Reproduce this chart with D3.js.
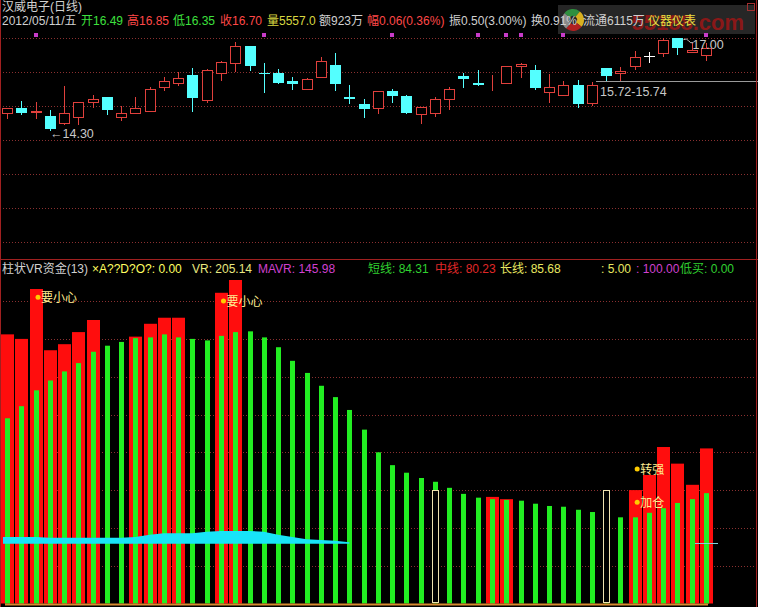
<!DOCTYPE html>
<html><head><meta charset="utf-8">
<script src="https://cdn.jsdelivr.net/npm/d3@7"></script>
<style>html,body{margin:0;padding:0;background:#000;overflow:hidden}</style>
</head><body><svg id="c" width="758" height="607"></svg>
<script>
// ---------- data ----------
const bars = d3.range(1, 51);
const open  = [14.79,14.93,14.81,14.70,14.50,14.68,15.12,15.25,14.68,14.78,14.85,15.54,15.68,15.90,15.17,15.97,16.26,16.76,15.96,15.97,15.73,15.48,15.84,16.20,15.25,15.05,14.93,15.43,15.29,14.75,14.78,15.19,15.87,15.66,15.63,15.66,16.17,16.05,15.41,15.31,15.61,15.09,16.10,15.95,16.18,16.46,16.54,16.99,16.57,16.49];
const high  = [14.93,15.14,15.12,14.87,15.58,15.12,15.31,15.26,14.99,15.26,15.56,15.85,15.98,16.10,16.07,16.31,16.86,16.77,16.25,16.08,15.85,15.80,16.44,16.54,15.61,15.19,15.43,15.49,15.31,14.97,15.26,15.54,15.95,16.05,15.90,16.17,16.25,16.20,15.93,15.74,15.76,15.71,16.10,16.15,16.61,16.59,16.98,17.00,16.84,16.85];
const low   = [14.64,14.76,14.63,14.30,14.46,14.46,14.95,14.75,14.58,14.78,14.85,15.46,15.61,14.85,15.12,15.76,16.03,16.05,15.41,15.68,15.50,15.48,15.84,15.46,15.09,14.66,14.79,15.12,14.78,14.48,14.71,14.90,15.56,15.61,15.46,15.66,15.85,15.48,15.12,15.31,14.97,15.02,15.76,15.76,16.08,16.29,16.46,16.51,16.57,16.35];
const close = [14.93,14.79,14.83,14.31,14.78,15.11,15.20,14.87,14.79,14.92,15.48,15.74,15.81,15.24,16.05,16.28,16.76,16.18,15.95,15.68,15.63,15.78,16.32,15.63,15.19,14.90,15.43,15.29,14.78,14.95,15.19,15.48,15.78,15.61,15.65,16.17,16.22,15.53,15.54,15.61,15.05,15.61,15.88,16.03,16.44,16.46,16.94,16.69,16.64,16.70];
const priceGrid = [17,16,15,14,13,12,11];
const markerBars = [3,19,28,34,36,37,40,50];
const lowLabel = {bar:4, price:14.30};
const highLabel = {bar:48, price:17.00};
const rangeLine = {fromBar:42, price:15.73, text:"15.72-15.74"};

// indicator panel
const vr = [356,350,416,335,343,359,375,null,null,353,370,378,378,null,null,411,428,null,null,null,null,null,null,null,null,null,null,null,null,null,null,null,null,null,141,138,null,null,null,null,null,null,null,null,150,170,207,185,157,205.14];
const mavr = [245,261,282,295,307,318,333,341,346,351,352,356,352,350,348,354,359,360,352,339,321,305,288,273,256,230,200,183,173,166,161,153,145,140,138,137,136,132,129,128,124,121,118,114,114,120,126,133,138,145.98];
const boxBars = [31,43];
const boxValue = 150;
const bandTop  = [88,88,88,87,87,87,87,87,87,88,91,93,93,93,95,96,96,96,95,91,88,85,84,83,81];
const bandBase = [79,79,79,79,79,79,79,79,79,79,79,79,79,79,79,79,79,79,79,79,79,79,79,79,79];
const midLast = 80.23;
const volGrid = [50,100,150,200,250,300,350,400];
const signalBars = [3,16,45,45];
const signalVals = [405,400,178,134];
const signalText = ["要小心","要小心","转强","加仓"];

const headerTop = [
  ["2012/05/11/五","#d0d0d0"],["开16.49","#3ee03e"],["高16.85","#ff4848"],["低16.35","#3ee03e"],
  ["收16.70","#ff4848"],["量5557.0","#d8d840"],["额923万","#d0d0d0"],["幅0.06(0.36%)","#ff4848"],
  ["振0.50(3.00%)","#d0d0d0"],["换0.91%","#d0d0d0"],["流通6115万","#d0d0d0"],["仪器仪表","#e8e040"]
];
const headerTopX = [2,81,127,173,220,267,319,367,449,531,583,648];
const headerBottom = [
  ["柱状VR资金(13)","#d0d0d0"],["×A??D?O?: 0.00","#ffff60"],["VR: 205.14","#e8e880"],["MAVR: 145.98","#d040d0"],
  ["短线: 84.31","#30d030"],["中线: 80.23","#e02828"],["长线: 85.68","#e8e860"],[": 5.00","#e8e860"],
  [": 100.00","#d040d0"],["低买: 0.00","#30d030"]
];
const headerBottomX = [2,92,192,258,368,435,500,601,636,680];

// ---------- drawing ----------
const W = 758, H = 607;
const FONT = "'Liberation Sans','Noto Sans CJK SC',sans-serif";
const svg = d3.select("#c");
svg.append("rect").attr("width", W).attr("height", H).attr("fill", "#000");

const x = d3.scaleLinear().domain([1, 50]).range([7, 706]);
const yP = d3.scaleLinear().domain([14.30, 17.00]).range([129.5, 37.7]);
const yV = d3.scaleLinear().domain([0, 400]).range([603.5, 301.1]);

const gridColor = "#8a3030";
svg.append("g").selectAll("line").data(priceGrid).join("line")
  .attr("x1", 0).attr("x2", W)
  .attr("y1", d => Math.round(yP(d)) + 0.5).attr("y2", d => Math.round(yP(d)) + 0.5)
  .attr("stroke", gridColor).attr("stroke-dasharray", "1,2");
svg.append("g").selectAll("line").data(volGrid).join("line")
  .attr("x1", 0).attr("x2", W)
  .attr("y1", d => Math.round(yV(d)) + 0.5).attr("y2", d => Math.round(yV(d)) + 0.5)
  .attr("stroke", gridColor).attr("stroke-dasharray", "1,2");

// watermark
const wm = svg.append("g");
wm.append("rect").attr("x", 558).attr("y", 5).attr("width", 197).attr("height", 29).attr("fill", "#2a2a2a").attr("opacity", 0.9);
wm.append("text").attr("x", 744).attr("y", 30).attr("text-anchor", "end")
  .attr("font-family", "'Liberation Sans',sans-serif").attr("font-weight", "bold").attr("font-size", 22)
  .attr("fill", "#8a1818").text("55188.com");
const arc = d3.arc().innerRadius(4).outerRadius(11);
const logoCols = ["#2f8f3f", "#d8b020", "#b02020", "#8a8a8a"];
wm.append("g").attr("transform", "translate(573,20)").selectAll("path")
  .data(d3.range(4)).join("path")
  .attr("d", i => arc({startAngle: i * Math.PI / 2 - 0.9, endAngle: (i + 1) * Math.PI / 2 - 0.9}))
  .attr("fill", i => logoCols[i]);
wm.append("rect").attr("x", 747.5).attr("y", 3.5).attr("width", 7).attr("height", 7)
  .attr("fill", "none").attr("stroke", "#a03030");

// header texts
svg.append("text").attr("x", 2).attr("y", 10.5).attr("font-family", FONT).attr("font-size", 12)
  .attr("fill", "#d0d0d0").text("汉威电子(日线)");
svg.append("g").selectAll("text").data(headerTop).join("text")
  .attr("x", (d, i) => headerTopX[i]).attr("y", 24.5)
  .attr("font-family", FONT).attr("font-size", 12)
  .attr("fill", d => d[1]).text(d => d[0]);

// magenta markers
svg.append("g").selectAll("rect").data(markerBars).join("rect")
  .attr("x", d => Math.round(x(d)) - 2).attr("y", 33).attr("width", 4).attr("height", 4)
  .attr("fill", "#c83cc8");

// range line
svg.append("line").attr("x1", Math.round(x(rangeLine.fromBar)) + 4).attr("x2", W)
  .attr("y1", Math.round(yP(rangeLine.price)) + 0.5).attr("y2", Math.round(yP(rangeLine.price)) + 0.5)
  .attr("stroke", "#9a9a9a");
svg.append("text").attr("x", Math.round(x(rangeLine.fromBar)) + 8).attr("y", yP(rangeLine.price) + 15)
  .attr("font-family", FONT).attr("font-size", 12.5).attr("fill", "#c8c8c8").text(rangeLine.text);

// candles
const RED = "#e0403c", CYAN = "#54ffff", WHITE = "#ffffff";
const cg = svg.append("g");
bars.forEach((b, i) => {
  const o = open[i], h = high[i], l = low[i], c = close[i];
  const col = c > o ? RED : (c < o ? CYAN : WHITE);
  const cx = Math.round(x(b));
  cg.append("line").attr("x1", cx + 0.5).attr("x2", cx + 0.5)
    .attr("y1", Math.round(yP(h))).attr("y2", Math.round(yP(l)) + 1).attr("stroke", col);
  const top = Math.round(yP(Math.max(o, c))), bot = Math.round(yP(Math.min(o, c)));
  if (c > o) {
    cg.append("rect").attr("x", cx - 5 + 0.5).attr("y", top + 0.5).attr("width", 10).attr("height", Math.max(bot - top, 0))
      .attr("fill", "#000").attr("stroke", col);
  } else if (c < o) {
    cg.append("rect").attr("x", cx - 5).attr("y", top).attr("width", 11).attr("height", Math.max(bot - top, 1))
      .attr("fill", col);
  } else {
    cg.append("line").attr("x1", cx - 5).attr("x2", cx + 6).attr("y1", top + 0.5).attr("y2", top + 0.5).attr("stroke", col);
  }
});

// price labels
svg.append("text").attr("x", Math.round(x(lowLabel.bar))).attr("y", yP(lowLabel.price) + 8.5)
  .attr("font-family", FONT).attr("font-size", 12.5).attr("fill", "#c8c8c8")
  .text("←" + lowLabel.price.toFixed(2));
svg.append("path").attr("d", `M${x(highLabel.bar) + 6},${yP(highLabel.price) + 2} q3,-2 5,1 t5,2`)
  .attr("fill", "none").attr("stroke", "#c8c8c8");
svg.append("text").attr("x", x(highLabel.bar) + 15).attr("y", yP(highLabel.price) + 11)
  .attr("font-family", FONT).attr("font-size", 12.5).attr("fill", "#c8c8c8")
  .text(highLabel.price.toFixed(2));

// borders / divider
svg.append("line").attr("x1", 0).attr("x2", W).attr("y1", 259.5).attr("y2", 259.5).attr("stroke", "#a02020");
svg.append("line").attr("x1", 0.5).attr("x2", 0.5).attr("y1", 0).attr("y2", H).attr("stroke", "#a02020");
svg.append("line").attr("x1", W - 1.5).attr("x2", W - 1.5).attr("y1", 0).attr("y2", H).attr("stroke", "#a02020");

// bottom header
svg.append("g").selectAll("text").data(headerBottom).join("text")
  .attr("x", (d, i) => headerBottomX[i]).attr("y", 273)
  .attr("font-family", FONT).attr("font-size", 12)
  .attr("fill", d => d[1]).text(d => d[0]);

// indicator panel
svg.append("defs").append("clipPath").attr("id", "pc").append("rect")
  .attr("x", 0).attr("y", 280).attr("width", W).attr("height", 327);
const pg = svg.append("g").attr("clip-path", "url(#pc)");
const redIdx = bars.filter((b, i) => vr[i] != null && vr[i] > mavr[i]);
pg.append("g").selectAll("rect").data(redIdx).join("rect")
  .attr("x", b => Math.round(x(b)) - 6).attr("width", 13)
  .attr("y", b => yV(vr[b - 1])).attr("height", b => yV(0) - yV(vr[b - 1]))
  .attr("fill", "#ff0d0d");
pg.append("g").selectAll("rect").data(bars).join("rect")
  .attr("x", b => Math.round(x(b)) - 2).attr("width", 5)
  .attr("y", b => yV(mavr[b - 1])).attr("height", b => yV(0) - yV(mavr[b - 1]))
  .attr("fill", "#22ee22");
pg.append("g").selectAll("rect").data(boxBars).join("rect")
  .attr("x", b => Math.round(x(b)) - 3 + 0.5).attr("width", 6)
  .attr("y", Math.round(yV(boxValue)) + 0.5).attr("height", Math.round(yV(0) - yV(boxValue)) - 1)
  .attr("fill", "#000").attr("stroke", "#f0e2b0");
const band = d3.area().x((d, i) => x(i + 1) - (i === 0 ? 4 : 0)).y0((d, i) => yV(bandBase[i])).y1(d => yV(d));
pg.append("path").attr("d", band(bandTop)).attr("fill", "#18e4f8");
pg.append("line").attr("x1", x(50) - 11).attr("x2", x(50) + 12)
  .attr("y1", Math.round(yV(midLast)) + 0.5).attr("y2", Math.round(yV(midLast)) + 0.5)
  .attr("stroke", "#80d4dc");
svg.append("line").attr("x1", 5).attr("x2", x(50) + 2).attr("y1", 604.5).attr("y2", 604.5)
  .attr("stroke", "#d88a30").attr("stroke-width", 2);

// signals
const sg = svg.append("g");
signalBars.forEach((b, i) => {
  const sx = x(b) + 2.5, sy = yV(signalVals[i]);
  sg.append("circle").attr("cx", sx).attr("cy", sy).attr("r", 2.5).attr("fill", "#ffcc00");
  sg.append("text").attr("x", sx + 3).attr("y", sy + 5).attr("font-family", FONT).attr("font-size", 12)
    .attr("fill", "#ffec90").text(signalText[i]);
});
</script></body></html>
